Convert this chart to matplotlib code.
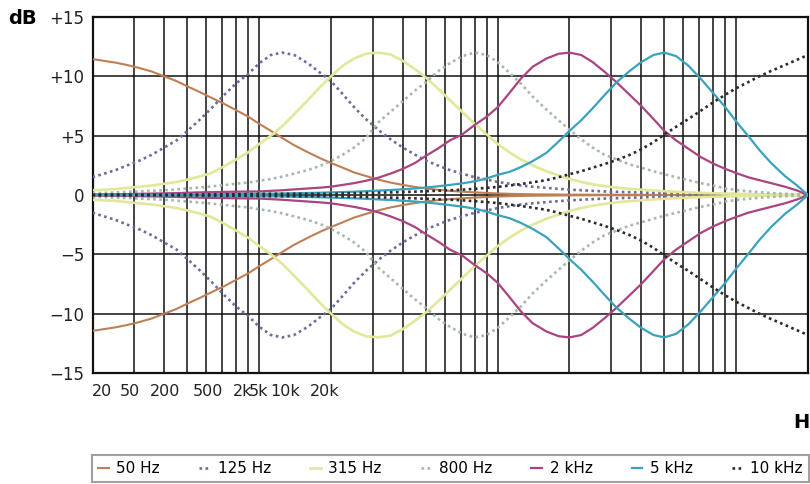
import matplotlib
matplotlib.use("Agg")
import numpy as np
import matplotlib.pyplot as plt

# 1/6-octave frequency points (Hz)
freqs = [20, 22.4, 25, 28, 31.5, 35.5, 40, 45, 50, 56,
         63, 71, 80, 90, 100, 112, 125, 140, 160, 180,
         200, 224, 250, 280, 315, 355, 400, 450, 500, 560,
         630, 710, 800, 900, 1000, 1120, 1250, 1400, 1600, 1800,
         2000, 2240, 2500, 2800, 3150, 3550, 4000, 4500, 5000, 5600,
         6300, 7100, 8000, 9000, 10000, 11200, 12500, 14000, 16000, 18000,
         20000]

# boost curves in dB (cut curves are the same read values, mirrored)
band_50 = [11.45, 11.3, 11.15, 10.95, 10.7, 10.4, 10.0, 9.6, 9.15, 8.7,
           8.2, 7.7, 7.15, 6.6, 6.0, 5.4, 4.8, 4.2, 3.6, 3.1,
           2.7, 2.3, 1.9, 1.6, 1.3, 1.05, 0.85, 0.68, 0.55, 0.44,
           0.35, 0.28, 0.22, 0.17, 0.13, 0.1, 0.08, 0.06, 0.05, 0.04,
           0.03, 0.03, 0.02, 0.02, 0.02, 0.02, 0.01, 0.01, 0.01, 0.01,
           0.01, 0.01, 0.01, 0.0, 0.0, 0.0, 0.0, 0.0, 0.0, 0.0,
           0.0]
band_125 = [1.5, 1.8, 2.1, 2.5, 2.9, 3.4, 4.0, 4.6, 5.4, 6.3,
            7.3, 8.4, 9.4, 10.2, 11.1, 11.8, 12.0, 11.8, 11.1, 10.3,
            9.6, 8.5, 7.4, 6.4, 5.5, 4.7, 4.0, 3.4, 2.9, 2.5,
            2.1, 1.8, 1.5, 1.3, 1.1, 0.95, 0.8, 0.7, 0.6, 0.52,
            0.45, 0.4, 0.35, 0.3, 0.27, 0.24, 0.2, 0.18, 0.15, 0.13,
            0.12, 0.1, 0.09, 0.08, 0.07, 0.06, 0.05, 0.04, 0.03, 0.02,
            0.0]
band_315 = [0.4, 0.45, 0.5, 0.6, 0.7, 0.8, 0.95, 1.1, 1.3, 1.55,
            1.85, 2.4, 3.0, 3.6, 4.3, 5.0, 5.8, 6.8, 8.0, 9.1,
            10.0, 10.9, 11.5, 11.9, 12.0, 11.85, 11.3, 10.6, 9.9, 9.0,
            8.0, 7.0, 6.0, 5.1, 4.3, 3.6, 3.0, 2.5, 2.0, 1.65,
            1.35, 1.1, 0.9, 0.75, 0.62, 0.52, 0.45, 0.38, 0.32, 0.27,
            0.22, 0.18, 0.15, 0.12, 0.1, 0.08, 0.06, 0.05, 0.03, 0.02,
            0.0]
band_800 = [0.15, 0.18, 0.22, 0.26, 0.3, 0.35, 0.4, 0.47, 0.55, 0.63,
            0.72, 0.83, 0.95, 1.05, 1.2, 1.35, 1.55, 1.8, 2.1, 2.45,
            2.85, 3.4, 4.0, 4.8, 6.1, 7.0, 7.9, 8.8, 9.5, 10.4,
            11.1, 11.7, 12.0, 11.8, 11.2, 10.3, 9.4, 8.3, 7.2, 6.3,
            5.5, 4.7, 4.0, 3.4, 3.0, 2.6, 2.3, 2.0, 1.75, 1.5,
            1.25, 1.0, 0.8, 0.55, 0.42, 0.32, 0.24, 0.16, 0.1, 0.05,
            0.0]
band_2k = [0.05, 0.06, 0.07, 0.08, 0.1, 0.12, 0.14, 0.16, 0.19, 0.22,
           0.24, 0.26, 0.28, 0.29, 0.3, 0.35, 0.4, 0.47, 0.55, 0.62,
           0.7, 0.85, 1.0, 1.2, 1.45, 1.8, 2.2, 2.7, 3.3, 3.9,
           4.6, 5.1, 5.9, 6.6, 7.4, 8.6, 9.8, 10.8, 11.5, 11.9,
           12.0, 11.8, 11.2, 10.4, 9.5, 8.5, 7.5, 6.4, 5.4, 4.6,
           3.9, 3.2, 2.65, 2.2, 1.85, 1.5, 1.25, 1.0, 0.7, 0.38,
           0.0]
band_5k = [0.0, 0.0, 0.01, 0.01, 0.02, 0.02, 0.03, 0.03, 0.04, 0.05,
           0.06, 0.07, 0.08, 0.09, 0.1, 0.11, 0.13, 0.15, 0.17, 0.19,
           0.22, 0.25, 0.28, 0.32, 0.37, 0.42, 0.48, 0.55, 0.63, 0.73,
           0.85, 0.98, 1.15, 1.4, 1.7, 1.95, 2.35, 2.85, 3.55, 4.5,
           5.4, 6.3, 7.3, 8.4, 9.5, 10.4, 11.2, 11.8, 12.0, 11.7,
           10.9, 9.8, 8.6, 7.4, 6.2, 5.0, 3.8, 2.7, 1.6, 0.8,
           0.0]
band_10k = [0.0, 0.0, 0.01, 0.01, 0.01, 0.02, 0.02, 0.03, 0.03, 0.04,
            0.05, 0.06, 0.07, 0.08, 0.09, 0.1, 0.1, 0.1, 0.1, 0.1,
            0.1, 0.12, 0.15, 0.17, 0.2, 0.22, 0.25, 0.28, 0.32, 0.36,
            0.4, 0.45, 0.52, 0.6, 0.68, 0.8, 0.92, 1.07, 1.25, 1.5,
            1.75, 2.0, 2.3, 2.6, 2.95, 3.35, 3.85, 4.45, 5.1, 5.75,
            6.4, 7.1, 7.8, 8.45, 9.0, 9.5, 10.0, 10.45, 10.95, 11.4,
            11.8]

band_names = ["50 Hz", "125 Hz", "315 Hz", "800 Hz", "2 kHz", "5 kHz", "10 kHz"]
bands = [band_50, band_125, band_315, band_800, band_2k, band_5k, band_10k]

# frequency grid lines and the (crowded) x tick labels as in the original
grid_hz = [30, 40, 50, 60, 70, 80, 90, 100, 200, 300, 400, 500, 600, 700, 800, 900,
           1000, 2000, 3000, 4000, 5000, 6000, 7000, 8000, 9000, 10000]
x_labels = ["20", "50", "200", "500", "2k", "5k", "10k", "20k"]
label_at_hz = [21.9, 28.7, 40.3, 61.0, 85.5, 99.8, 128.2, 188.8]

db_ticks = [-15, -10, -5, 0, 5, 10, 15]
db_labels = ["\u221215", "\u221210", "\u22125", "0", "+5", "+10", "+15"]

colors = ["#bf7f55", "#6c6c9e", "#e2e79a", "#a6b8aa", "#ab4380", "#3aa2bd", "#2a2a2a"]
styles = ["-", (0, (1, 1.3)), "-", (0, (1, 1.3)), "-", "-", (0, (1, 1.3))]
widths = [1.5, 1.9, 1.9, 1.9, 1.6, 1.6, 1.9]

fig = plt.figure(figsize=(8.1, 4.84), dpi=100)
ax = fig.add_axes([92.5 / 810, 1 - 373 / 484, 715.5 / 810, 356 / 484])

f = np.array(freqs)
for name, vals, c, ls, lw in zip(band_names, bands, colors, styles, widths):
    v = np.array(vals)
    ax.plot(f, v, color=c, ls=ls, lw=lw, label=name, zorder=3)
    ax.plot(f, -v, color=c, ls=ls, lw=lw, zorder=3)

ax.set_xscale("log")
ax.set_xlim(20, 20000)
ax.set_ylim(-15, 15)

ax.set_xticks(grid_hz, minor=True)
ax.set_xticks(label_at_hz)
ax.set_xticklabels(x_labels, minor=False)
ax.xaxis.set_minor_formatter(matplotlib.ticker.NullFormatter())
ax.set_yticks(db_ticks)
ax.set_yticklabels(db_labels)
ax.tick_params(axis="both", which="both", length=0)
ax.tick_params(axis="x", pad=8, labelsize=11.5, colors="#222")
ax.tick_params(axis="y", pad=6, labelsize=12, colors="#222")

ax.grid(which="minor", axis="x", color="#111", lw=1.1, zorder=1)
ax.grid(which="major", axis="y", color="#111", lw=1.1, zorder=1)
ax.grid(which="major", axis="x", visible=False)
for s in ax.spines.values():
    s.set_linewidth(1.6)
    s.set_color("#111")

fig.text(8 / 810, 1 - 18 / 484, "dB", fontsize=14, fontweight="bold", va="center", ha="left")
fig.text(793 / 810, 1 - 422 / 484, "H", fontsize=14, fontweight="bold", va="center", ha="left")

leg = fig.legend(loc="lower left", bbox_to_anchor=(92 / 810, 2 / 484, 717 / 810, 30 / 484),
                 mode="expand", ncol=7, borderaxespad=0, fontsize=11,
                 handlelength=0.7, handletextpad=0.5, fancybox=False, frameon=True)
leg.get_frame().set_edgecolor("#888888")
leg.get_frame().set_linewidth(1.5)

fig.savefig("out.png", dpi=100)
